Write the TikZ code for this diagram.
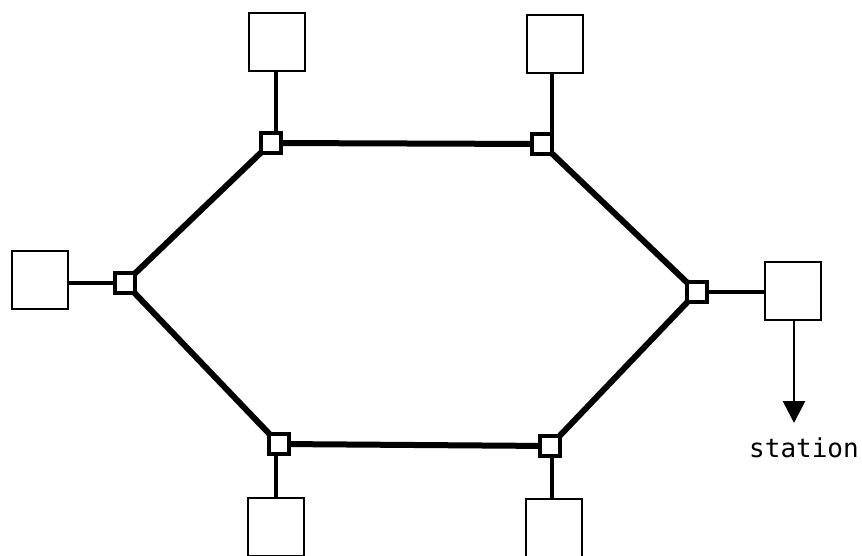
\documentclass[tikz,border=0pt]{standalone}
\usepackage{fontspec}
\setmonofont{DejaVu Sans Mono}
\usetikzlibrary{arrows.meta}
\begin{document}
\begin{tikzpicture}[x=1pt,y=-1pt,
  ring/.style={line width=6pt},
  tap/.style={line width=3.6pt},
  junction/.style={draw,line width=4.2pt,fill=white,minimum size=20pt,inner sep=0pt},
  stationbox/.style={draw,line width=2.4pt,fill=white,minimum width=56pt,minimum height=58pt,inner sep=0pt}]
\useasboundingbox (0,0) rectangle (862,556);
\coordinate (c1) at (271,143);
\coordinate (c2) at (542,144);
\coordinate (c3) at (697,292);
\coordinate (c4) at (550,446);
\coordinate (c5) at (279,444);
\coordinate (c6) at (125,283);
% ring
\draw[ring] (c1) -- (c2) -- (c3) -- (c4) -- (c5) -- (c6) -- cycle;
% stations
\node[stationbox] (s1) at (277,42) {};
\node[stationbox] (s2) at (555,44) {};
\node[stationbox] (s3) at (793,291) {};
\node[stationbox] (s4) at (554,528) {};
\node[stationbox] (s5) at (276,527) {};
\node[stationbox] (s6) at (40,280) {};
% taps
\draw[tap] (s1.south -| 276,0) -- (276,136);
\draw[tap] (s2.south -| 552,0) -- (552,137);
\draw[tap] (s3.west |- c3) -- (c3);
\draw[tap] (s4.north -| 552,0) -- (552,455);
\draw[tap] (s5.north -| 276,0) -- (276,452);
\draw[tap] (s6.east |- c6) -- (c6);
% junctions
\node[junction] (j1) at (c1) {};
\node[junction] (j2) at (c2) {};
\node[junction] (j3) at (c3) {};
\node[junction] (j4) at (c4) {};
\node[junction] (j5) at (c5) {};
\node[junction] (j6) at (c6) {};
% output
\coordinate (tip) at (794,423);
\draw[line width=2.6pt,-{Triangle[length=22pt,width=22pt]}] (s3.south -| 794,0) -- (tip);
\node[font=\ttfamily\fontsize{26}{28}\selectfont,anchor=north] (lbl) at (804,434) {station};
\end{tikzpicture}
\end{document}
